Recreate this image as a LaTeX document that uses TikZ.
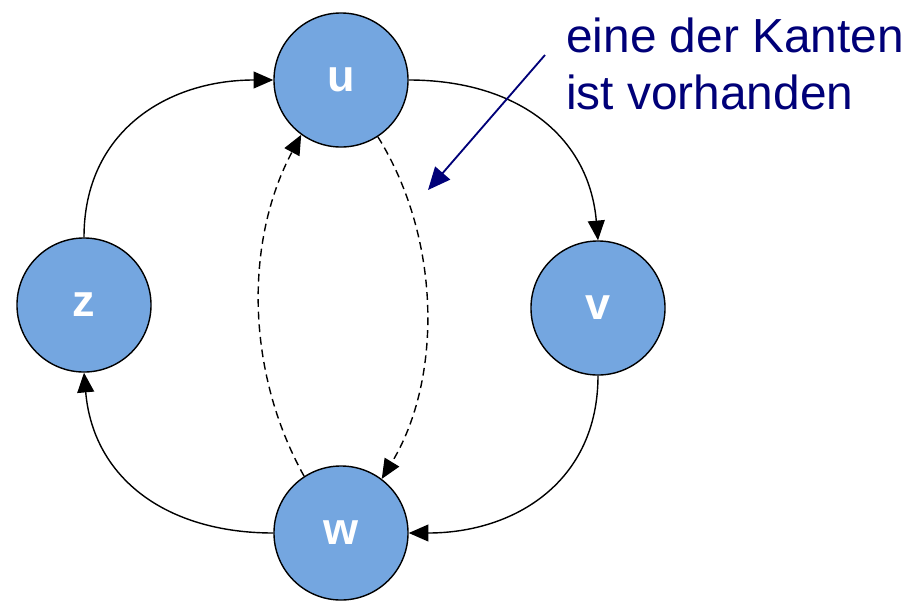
\documentclass[tikz,border=0pt]{standalone}
\usepackage{fontspec}
\setmainfont{Liberation Sans}
\usepackage{tikz}
\usetikzlibrary{arrows.meta,positioning}
\definecolor{knotblue}{RGB}{116,166,224}
\definecolor{notenavy}{RGB}{0,0,120}

\begin{document}
\begin{tikzpicture}[
    x=0.025cm, y=-0.025cm,
    >={Triangle[length=14pt,width=12pt]},
    % Define styles for the vertices and edges
    vertex/.style={circle, draw=black, line width=1pt, fill=knotblue,
        minimum size=3.35cm, inner sep=0pt, text=white,
        font=\fontsize{32}{36}\selectfont\bfseries},
    edge_solid/.style={->, line width=1pt},
    edge_dashed/.style={->, line width=1pt, dash pattern=on 5.5pt off 3.5pt},
    note_text/.style={text=notenavy, align=left, inner sep=0pt,
        font=\fontsize{34}{40}\selectfont}
]

% --- 1. Frame ---
\useasboundingbox (0,0) rectangle (909,600);

% --- 2. Vertices ---
\node[vertex] (u) at (341,80) {u};
\node[vertex] (z) at (84,305) {z};
\node[vertex] (v) at (598,308) {v};
\node[vertex] (w) at (341,533) {w};

% --- 3. Cycle edges ---
\draw[edge_solid] (z.north) to[out=90, in=180, looseness=1.1] (u.west);
\draw[edge_solid] (u.east) to[out=0, in=95, looseness=1.1] (v.north);
\draw[edge_solid] (v.south) to[out=270, in=0, looseness=1.1] (w.east);
\draw[edge_solid] (w.west) to[out=180, in=275, looseness=1.1] (z.south);

% --- 4. Optional edges between u and w ---
\draw[edge_dashed] (u.-57) .. controls (442,240) and (442,380) .. (w.53);
\draw[edge_dashed] (w.123) .. controls (245,370) and (245,240) .. (u.-126);

% --- 5. Annotation ---
\node[note_text, anchor=base west] (note) at (566,109)
    {eine der Kanten\\ist vorhanden};
\coordinate (tail) at (545,55);
\coordinate (tip) at (428,190);
\draw[-{Triangle[length=16pt,width=14pt]}, notenavy, line width=1.3pt] (tail) -- (tip);

\end{tikzpicture}
\end{document}
